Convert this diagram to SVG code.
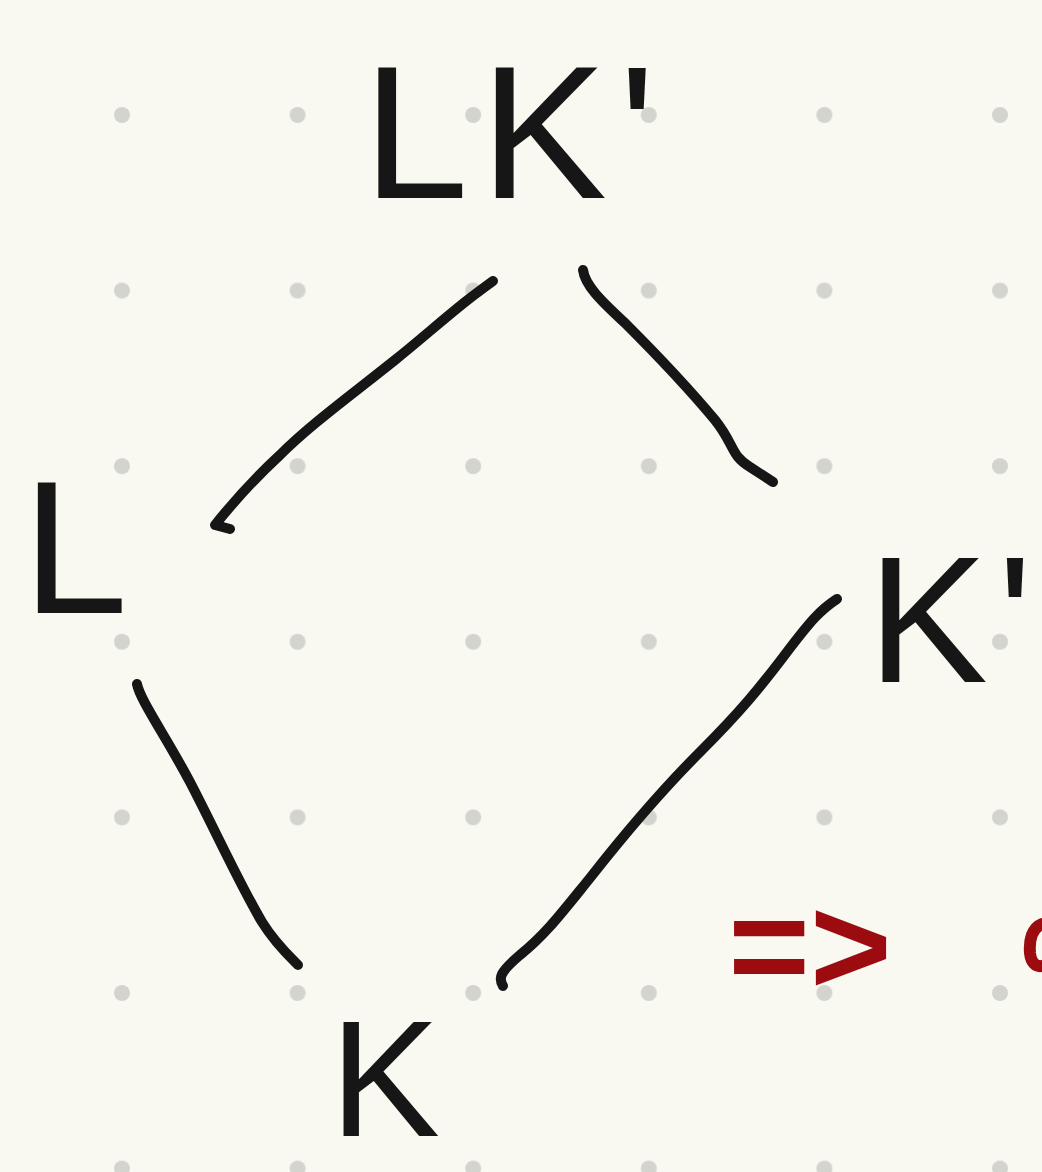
<svg xmlns="http://www.w3.org/2000/svg" width="1042" height="1172" viewBox="0 0 1042 1172">
<defs>
<style>
.lbl{font-family:"Liberation Sans","DejaVu Sans",sans-serif;fill:#161616;text-anchor:middle}
.edge{fill:none;stroke:#161616;stroke-width:10;stroke-linecap:round;stroke-linejoin:round}
.red{fill:none;stroke:#9b0b10;stroke-width:12;stroke-linecap:round;stroke-linejoin:round}
.dot{fill:#d4d4ce}
</style>
<pattern id="grid" x="0" y="0" width="175.6" height="175.6" patternUnits="userSpaceOnUse" patternTransform="translate(122 115)">
<circle class="dot" cx="0" cy="0" r="8"/><circle class="dot" cx="175.6" cy="0" r="8"/><circle class="dot" cx="0" cy="175.6" r="8"/><circle class="dot" cx="175.6" cy="175.6" r="8"/>
</pattern>
</defs>
<rect width="1042" height="1172" fill="#f9f9f2"/>
<rect width="1042" height="1172" fill="url(#grid)"/>
<g id="connectors">
<path class="edge" d="M493,281 C485,287 478,292 465,302 C440,322 420,340 395,360 C350,396 310,425 280,455 C255,478 235,500 215,525 L230,529"/>
<path class="edge" d="M583,270 C585,285 600,300 625,323 C660,358 690,390 715,420 C735,445 730,455 750,467 L773,482"/>
<path class="edge" d="M137,684 C140,700 165,735 190,782 C215,830 240,885 262,922 C275,943 288,955 298,965"/>
<path class="edge" d="M837,599 C820,610 810,622 790,648 C760,688 740,712 700,752 C660,792 630,827 590,878 C560,915 545,935 520,955 C500,972 498,978 503,986"/>
</g>
<g id="node-LK"><text class="lbl" x="515" y="198" font-size="190" letter-spacing="12">LK'</text></g>
<g id="node-L"><text class="lbl" x="75" y="613" font-size="190">L</text></g>
<g id="node-Kp"><text class="lbl" x="955" y="682" font-size="180" letter-spacing="10">K'</text></g>
<g id="node-K"><text class="lbl" x="385" y="1136" font-size="165">K</text></g>
<g id="implies"><text x="810" y="994" font-family="Liberation Sans, DejaVu Sans, sans-serif" font-size="140" font-weight="bold" fill="#9b0b10" text-anchor="middle">=&gt;</text></g>
<path class="red" d="M1042,924 C1032,928 1029,940 1030,953 C1031,963 1036,967 1042,966"/>
</svg>
